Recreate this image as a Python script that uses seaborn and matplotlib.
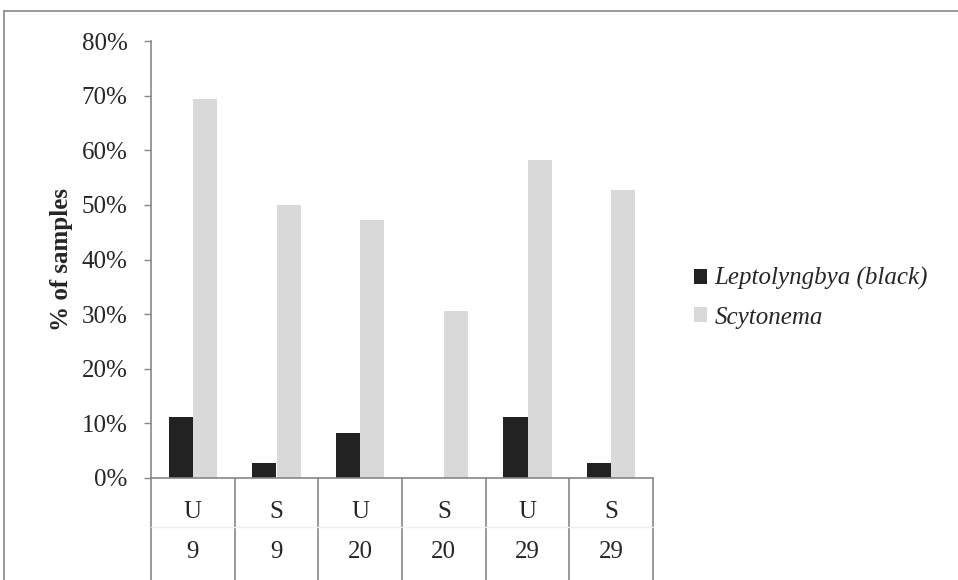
import numpy as np
import pandas as pd
import matplotlib
matplotlib.use('Agg')
import matplotlib.pyplot as plt
import seaborn as sns
from matplotlib.patches import Patch
from matplotlib.lines import Line2D

# data
treatment = ['U', 'S', 'U', 'S', 'U', 'S']
week = ['9', '9', '20', '20', '29', '29']
leptolyngbya = [11.1, 2.8, 8.3, 0.0, 11.1, 2.8]
scytonema = [69.4, 50.0, 47.2, 30.6, 58.3, 52.8]
series = ['Leptolyngbya (black)', 'Scytonema']
colors = ['#222222', '#d9d9d9']

cats = [f'{t}{w}' for t, w in zip(treatment, week)]
df = pd.DataFrame({'cat': cats * 2,
                   'series': [series[0]] * 6 + [series[1]] * 6,
                   'value': leptolyngbya + scytonema})

sns.set_style('white')
plt.rcParams['font.family'] = ['Liberation Serif', 'DejaVu Serif']
fs = 18

fig = plt.figure(figsize=(9.58, 5.8), dpi=100)
ax = fig.add_axes([151/958, 102/580, 502/958, 437/580])

sns.barplot(data=df, x='cat', y='value', hue='series', palette=colors,
            width=0.575, ax=ax, legend=False, saturation=1)
for p in ax.patches:
    p.set_linewidth(0)

ax.set_ylim(0, 80)
ax.set_xlim(-0.5, 5.5)
ax.set_yticks(range(0, 81, 10))
ax.set_yticklabels([f'{v}%' for v in range(0, 81, 10)], fontsize=fs)
ax.set_xticks([])
ax.set_xlabel('')
ax.set_ylabel('% of samples', fontsize=fs, fontweight='bold', labelpad=6)
ax.tick_params(axis='y', left=True, length=5, width=1, color='#888888', pad=12)

for s in ['top', 'right']:
    ax.spines[s].set_visible(False)
for s in ['left', 'bottom']:
    ax.spines[s].set_color('#888888')
    ax.spines[s].set_linewidth(1.2)

# two-row category table below the axis
trans = ax.get_xaxis_transform()
bottom = -(580 - 478) / 437
for b in np.arange(-0.5, 6.0, 1.0):
    ax.add_line(Line2D([b, b], [0, bottom], transform=trans, color='#888888',
                       lw=1.2, clip_on=False))
ax.add_line(Line2D([-0.5, 5.5], [-49/437, -49/437], transform=trans,
                   color='#eeeeee', lw=1, clip_on=False))
for i in range(6):
    ax.text(i, -34/437, treatment[i], transform=trans, ha='center',
            va='center', fontsize=fs)
    ax.text(i, -74/437, week[i], transform=trans, ha='center',
            va='center', fontsize=fs)

handles = [Patch(facecolor=c, edgecolor='none') for c in colors]
leg = fig.legend(handles, series, loc='center left',
                 bbox_to_anchor=(671/958, 1 - 298/580), frameon=False,
                 prop={'style': 'italic', 'size': fs}, handlelength=0.55,
                 handleheight=0.55, handletextpad=0.3, labelspacing=0.65)

# outer border (left and top only visible)
fig.add_artist(Line2D([4/958, 4/958], [0, 1 - 11/580], transform=fig.transFigure,
                      color='#888888', lw=1.2))
fig.add_artist(Line2D([4/958, 1], [1 - 11/580, 1 - 11/580],
                      transform=fig.transFigure, color='#888888', lw=1.2))

fig.savefig('out.png', dpi=100)
